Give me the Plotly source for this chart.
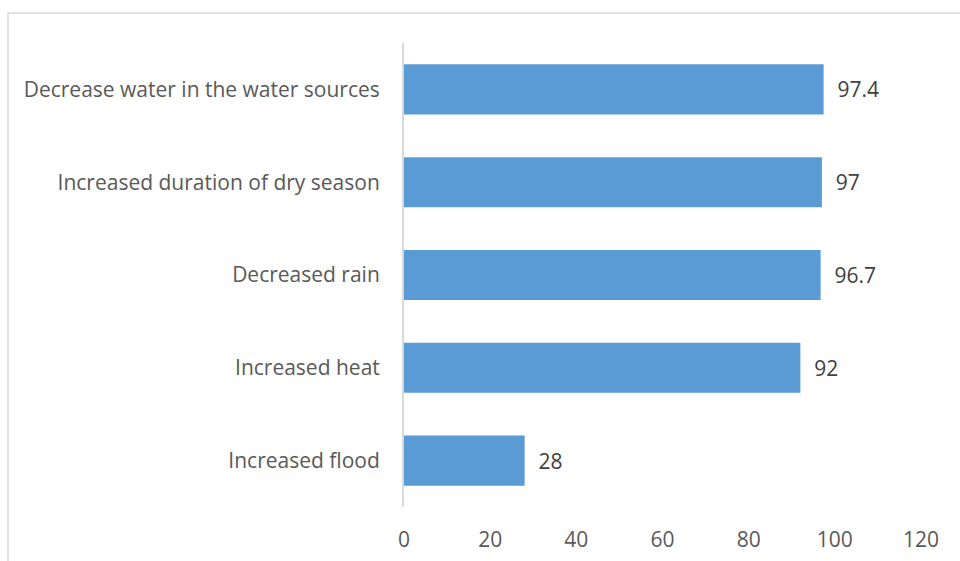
import plotly.graph_objects as go

categories = ["Increased flood", "Increased heat", "Decreased rain",
              "Increased duration of dry season", "Decrease water in the water sources"]
values = [28, 92, 96.7, 97, 97.4]
value_labels = ["28", "92", "96.7", "97", "97.4"]
x_ticks = [0, 20, 40, 60, 80, 100, 120]

FONT = "Open Sans, sans-serif"
FS = 21

fig = go.Figure(go.Bar(
    y=categories, x=values, orientation="h",
    marker=dict(color="#5B9BD5", line=dict(width=0)),
    width=0.54,
    text=value_labels, texttemplate="  %{text}", textposition="outside", cliponaxis=False,
    textfont=dict(family=FONT, size=FS, color="#404040"),
))

fig.update_layout(
    width=960, height=561,
    margin=dict(l=404, r=39, t=43, b=54),
    paper_bgcolor="white", plot_bgcolor="white",
    showlegend=False,
    font=dict(family=FONT, size=FS, color="#595959"),
    xaxis=dict(range=[0, 120], tickvals=x_ticks, showgrid=False, zeroline=False,
               showline=False, ticks="", ticklabelstandoff=18, automargin=False,
               tickfont=dict(family=FONT, size=FS, color="#595959")),
    yaxis=dict(showgrid=False, zeroline=False, showline=True, linecolor="#D9D9D9",
               linewidth=2, ticks="", ticklabelstandoff=18, automargin=False,
               tickfont=dict(family=FONT, size=FS, color="#595959")),
    shapes=[dict(type="rect", xref="paper", yref="paper",
                 x0=(8 - 404) / 517, x1=2, y0=-1, y1=1 + 30 / 464,
                 line=dict(color="#D9D9D9", width=1.5), fillcolor="rgba(0,0,0,0)",
                 layer="below")],
)

fig.write_html("out.html", config={"displayModeBar": False},
               post_script="document.body.style.margin='0px';")
